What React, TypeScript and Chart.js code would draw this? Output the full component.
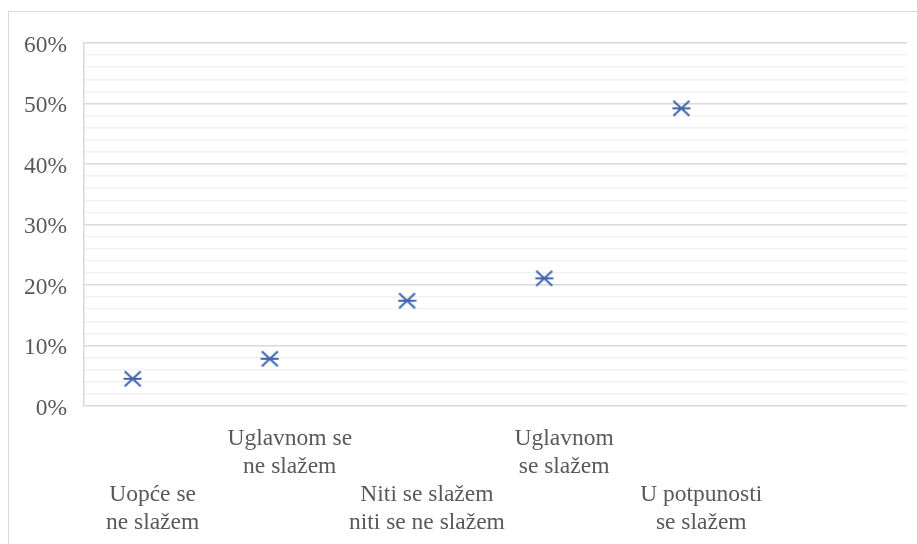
import { useEffect, useRef } from "react";
import { Chart, registerables } from "chart.js";

Chart.register(...registerables);

// ---- data ----
const categories: string[][] = [
  ["Uopće se", "ne slažem"],
  ["Uglavnom se", "ne slažem"],
  ["Niti se slažem", "niti se ne slažem"],
  ["Uglavnom", "se slažem"],
  ["U potpunosti", "se slažem"],
];
const values: number[] = [4.5, 7.8, 17.4, 21.1, 49.2];
const yMin = 0;
const yMax = 60;
const yMinorStep = 2;
const yMajorStep = 10;

const FONT = '"Liberation Serif", "Times New Roman", serif';
const TEXT = "#595959";
const MARKER = "#3F66AE";

function makeMarker(): HTMLCanvasElement {
  const c = document.createElement("canvas");
  c.width = 19;
  c.height = 18;
  const ctx = c.getContext("2d")!;
  ctx.strokeStyle = MARKER;
  ctx.lineWidth = 2.1;
  ctx.lineCap = "butt";
  ctx.beginPath();
  ctx.moveTo(1.5, 1.5);
  ctx.lineTo(17.5, 16.5);
  ctx.moveTo(1.5, 16.5);
  ctx.lineTo(17.5, 1.5);
  ctx.moveTo(0.5, 9);
  ctx.lineTo(18.5, 9);
  ctx.stroke();
  return c;
}

export default function App() {
  const ref = useRef<HTMLCanvasElement | null>(null);

  useEffect(() => {
    if (!ref.current) return;
    // staggered labels: odd categories on lower row, even on upper row
    const labels: string[][] = categories.map((lines, i) =>
      i % 2 === 0 ? ["", "", ...lines] : [...lines, "", ""]
    );
    labels.push([""]);
    const points = values.map((v, i) => ({ x: i + 1, y: v }));

    const chart = new Chart(ref.current, {
      type: "scatter",
      data: {
        labels: labels as any,
        datasets: [
          {
            data: points,
            xAxisID: "x2",
            yAxisID: "y",
            pointStyle: makeMarker() as any,
            pointRadius: 9,
            showLine: false,
          },
        ],
      },
      options: {
        animation: false,
        responsive: false,
        layout: { padding: { top: 27, right: 4, left: 0, bottom: 0 } },
        plugins: { legend: { display: false }, tooltip: { enabled: false } },
        scales: {
          x: {
            type: "category",
            position: "bottom",
            offset: true,
            grid: { display: false, drawTicks: false },
            border: { display: false },
            ticks: {
              autoSkip: false,
              maxRotation: 0,
              minRotation: 0,
              padding: 19,
              color: TEXT,
              font: { family: FONT, size: 23.5, lineHeight: "28px" },
            },
            afterFit: (s: any) => {
              s.height = 138;
            },
          },
          x2: {
            type: "linear",
            display: false,
            min: 0.645,
            max: 6.645,
          },
          y: {
            type: "linear",
            min: yMin,
            max: yMax,
            grid: {
              drawTicks: false,
              color: (ctx: any) =>
                ctx.tick && ctx.tick.value % yMajorStep === 0 ? "#D9D9D9" : "#F2F2F2",
              lineWidth: 1.5,
            },
            border: { display: true, color: "#D9D9D9", width: 1.5 },
            ticks: {
              stepSize: yMinorStep,
              autoSkip: false,
              padding: 17,
              labelOffset: 2.5,
              color: TEXT,
              font: { family: FONT, size: 23.5, lineHeight: "28px" },
              callback: (v: any) => (Number(v) % yMajorStep === 0 ? `${v}%` : ""),
            },
            afterFit: (s: any) => {
              s.width = 75;
            },
          },
        },
      } as any,
    });
    return () => chart.destroy();
  }, []);

  return (
    <div
      style={{
        position: "fixed",
        left: 8,
        top: 11,
        width: 909,
        height: 533,
        boxSizing: "border-box",
        borderTop: "1px solid #D9D9D9",
        borderLeft: "1px solid #D9D9D9",
        background: "#fff",
      }}
    >
      <canvas ref={ref} width={908} height={532} style={{ display: "block" }} />
    </div>
  );
}
